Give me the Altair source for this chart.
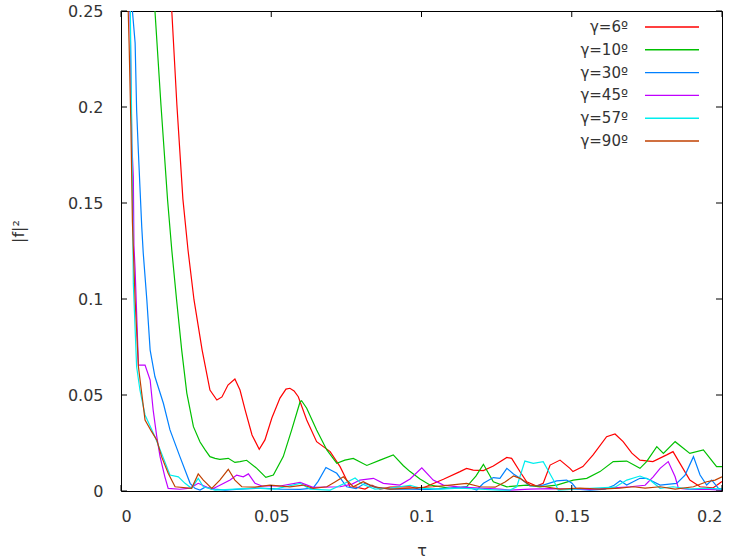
import altair as alt
import pandas as pd

FONT = "DejaVu Sans"
TXT = "#333333"

labels = ["γ=6º", "γ=10º", "γ=30º", "γ=45º", "γ=57º", "γ=90º"]
colors = ["#ff0000", "#00c000", "#0080ff", "#c000ff", "#00eeee", "#c04000"]
x_ticks = [0, 0.05, 0.1, 0.15, 0.2]
y_ticks = [0, 0.05, 0.1, 0.15, 0.2, 0.25]

# (tau, |f|^2) pairs
g6 = [(0.0150,0.300),(0.0169,0.250),(0.0186,0.201),(0.0206,0.152),(0.0223,0.1255),(0.0243,0.0995),
      (0.0270,0.0734),(0.0296,0.0526),(0.0319,0.0474),(0.0336,0.0490),(0.0356,0.0552),(0.0379,0.0583),
      (0.0396,0.0526),(0.0413,0.0422),(0.0436,0.0292),(0.0460,0.0217),(0.0479,0.0266),(0.0502,0.0380),
      (0.0529,0.0484),(0.0549,0.0531),(0.0562,0.0535),(0.0576,0.0521),(0.0590,0.0491),(0.0618,0.0370),
      (0.0651,0.0257),(0.0696,0.0205),(0.0729,0.0127),(0.0762,0.0022),(0.0782,0.0020),(0.0812,0.0010),
      (0.0835,0.0030),(0.0862,0.0010),(0.0895,0.0020),(0.0928,0.0022),(0.0962,0.0022),(0.0995,0.0009),
      (0.1028,0.0031),(0.1073,0.0061),(0.1128,0.0101),(0.1150,0.0118),(0.1172,0.0109),(0.1206,0.0106),
      (0.1239,0.0130),(0.1284,0.0175),(0.1300,0.0170),(0.1328,0.0100),(0.1350,0.0048),(0.1383,0.0026),
      (0.1405,0.0040),(0.1428,0.0135),(0.1461,0.0161),(0.1494,0.0118),(0.1504,0.0101),(0.1537,0.0127),
      (0.1571,0.0188),(0.1616,0.0283),(0.1644,0.0297),(0.1671,0.0257),(0.1700,0.0197),(0.1727,0.0161),
      (0.1770,0.0153),(0.1816,0.0188),(0.1837,0.0205),(0.1860,0.0144),(0.1893,0.0057),(0.1927,0.0022),
      (0.1970,0.0016),(0.1993,0.0042),(0.2000,0.0050)]
g10 = [(0.0090,0.300),(0.0113,0.250),(0.0133,0.201),(0.0155,0.1516),(0.0169,0.1255),(0.0185,0.0995),
       (0.0202,0.0734),(0.0219,0.0510),(0.0241,0.0335),(0.0263,0.0255),(0.0280,0.0214),(0.0296,0.0179),
       (0.0313,0.0170),(0.0329,0.0165),(0.0357,0.0170),(0.0379,0.0149),(0.0396,0.0153),(0.0418,0.0160),
       (0.0452,0.0118),(0.0482,0.0071),(0.0507,0.0083),(0.0540,0.0179),(0.0568,0.0318),(0.0596,0.0465),
       (0.0601,0.0470),(0.0618,0.0431),(0.0651,0.0318),(0.0685,0.0214),(0.0718,0.0144),(0.0745,0.0161),
       (0.0773,0.0170),(0.0818,0.0133),(0.0862,0.0161),(0.0906,0.0188),(0.0939,0.0133),(0.0962,0.0101),
       (0.0995,0.0063),(0.1028,0.0031),(0.1095,0.0014),(0.1150,0.0022),(0.1181,0.0078),(0.1206,0.0139),
       (0.1239,0.0048),(0.1284,0.0022),(0.1350,0.0031),(0.1394,0.0022),(0.1450,0.0031),(0.1505,0.0057),
       (0.1550,0.0066),(0.1594,0.0101),(0.1638,0.0153),(0.1683,0.0156),(0.1727,0.0118),(0.1749,0.0153),
       (0.1783,0.0231),(0.1805,0.0196),(0.1844,0.0257),(0.1893,0.0196),(0.1938,0.0214),(0.1982,0.0127),
       (0.2000,0.0127)]
g30 = [(0.0030,0.300),(0.0038,0.250),(0.0047,0.2333),(0.0052,0.1984),(0.0058,0.1760),(0.0063,0.1585),
       (0.0069,0.1377),(0.0074,0.1240),(0.0086,0.0995),(0.0097,0.0734),(0.0113,0.0595),(0.0141,0.0457),
       (0.0163,0.0318),(0.0196,0.0179),(0.0230,0.0040),(0.0246,0.0014),(0.0263,0.0005),(0.0280,0.0020),
       (0.0313,0.0010),(0.0346,0.0005),(0.0396,0.0010),(0.0463,0.0015),(0.0529,0.0010),(0.0596,0.0008),
       (0.0639,0.0015),(0.0656,0.0050),(0.0682,0.0122),(0.0718,0.0092),(0.0751,0.0022),(0.0782,0.0012),
       (0.0812,0.0040),(0.0845,0.0020),(0.0895,0.0010),(0.0962,0.0010),(0.1028,0.0008),(0.1095,0.0015),
       (0.1150,0.0022),(0.1184,0.0005),(0.1206,0.0040),(0.1239,0.0070),(0.1261,0.0066),(0.1284,0.0118),
       (0.1306,0.0089),(0.1328,0.0066),(0.1361,0.0026),(0.1405,0.0031),(0.1450,0.0053),(0.1483,0.0057),
       (0.1501,0.0040),(0.1517,0.0010),(0.1561,0.0005),(0.1611,0.0010),(0.1641,0.0030),(0.1661,0.0053),
       (0.1683,0.0031),(0.1727,0.0066),(0.1749,0.0066),(0.1794,0.0031),(0.1849,0.0040),(0.1877,0.0083),
       (0.1905,0.0179),(0.1927,0.0083),(0.1949,0.0031),(0.1966,0.0057),(0.1988,0.0014),(0.2000,0.0010)]
g45 = [(0.0025,0.300),(0.0030,0.250),(0.0036,0.181),(0.0041,0.1637),(0.0043,0.128),(0.0047,0.115),
       (0.0058,0.0656),(0.0080,0.0656),(0.0097,0.0578),(0.0107,0.0422),(0.0119,0.0283),(0.0130,0.0179),
       (0.0146,0.0074),(0.0157,0.0014),(0.0196,0.0009),(0.0230,0.0015),(0.0257,0.0040),(0.0302,0.0009),
       (0.0329,0.0030),(0.0363,0.0057),(0.0385,0.0083),(0.0407,0.0074),(0.0424,0.0089),(0.0446,0.0040),
       (0.0469,0.0026),(0.0529,0.0026),(0.0596,0.0045),(0.0639,0.0019),(0.0729,0.0022),(0.0769,0.0036),
       (0.0795,0.0057),(0.0840,0.0066),(0.0873,0.0040),(0.0928,0.0031),(0.0962,0.0063),(0.1001,0.0121),
       (0.1039,0.0057),(0.1073,0.0031),(0.1128,0.0020),(0.1195,0.0015),(0.1261,0.0010),(0.1294,0.0005),
       (0.1361,0.0010),(0.1428,0.0012),(0.1494,0.0010),(0.1561,0.0008),(0.1627,0.0015),(0.1694,0.0022),
       (0.1744,0.0030),(0.1771,0.0074),(0.1794,0.0118),(0.1821,0.0153),(0.1844,0.0074),(0.1855,0.0014),
       (0.1893,0.0008),(0.1943,0.0010),(0.2000,0.0005)]
g57 = [(0.0026,0.300),(0.0031,0.250),(0.0038,0.160),(0.0041,0.108),(0.0052,0.0647),(0.0063,0.0526),
       (0.0080,0.0396),(0.0113,0.0283),(0.0135,0.0196),(0.0163,0.0083),(0.0191,0.0074),(0.0213,0.0040),
       (0.0235,0.0014),(0.0257,0.0066),(0.0274,0.0022),(0.0313,0.0005),(0.0379,0.0010),(0.0446,0.0015),
       (0.0512,0.0010),(0.0596,0.0040),(0.0629,0.0010),(0.0696,0.0005),(0.0745,0.0040),(0.0779,0.0068),
       (0.0802,0.0036),(0.0845,0.0010),(0.0895,0.0015),(0.0962,0.0030),(0.0995,0.0015),(0.1062,0.0010),
       (0.1128,0.0015),(0.1195,0.0010),(0.1261,0.0005),(0.1294,0.0005),(0.1317,0.0022),(0.1344,0.0156),
       (0.1372,0.0144),(0.1405,0.0153),(0.1439,0.0057),(0.1455,0.0005),(0.1511,0.0010),(0.1577,0.0015),
       (0.1644,0.0020),(0.1683,0.0057),(0.1727,0.0078),(0.1760,0.0057),(0.1794,0.0014),(0.1837,0.0022),
       (0.1893,0.0010),(0.1943,0.0015),(0.2000,0.0010)]
g90 = [(0.0020,0.300),(0.0024,0.250),(0.0027,0.233),(0.0033,0.190),(0.0038,0.140),(0.0047,0.0995),
       (0.0058,0.0647),(0.0069,0.0509),(0.0080,0.0370),(0.0102,0.0309),(0.0119,0.0266),(0.0135,0.0179),
       (0.0157,0.0092),(0.0180,0.0022),(0.0235,0.0014),(0.0257,0.0089),(0.0274,0.0057),(0.0302,0.0014),
       (0.0329,0.0057),(0.0357,0.0113),(0.0379,0.0057),(0.0402,0.0022),(0.0446,0.0020),(0.0496,0.0031),
       (0.0562,0.0022),(0.0607,0.0031),(0.0640,0.0014),(0.0685,0.0022),(0.0712,0.0047),(0.0740,0.0074),
       (0.0773,0.0022),(0.0806,0.0048),(0.0840,0.0022),(0.0895,0.0010),(0.0962,0.0015),(0.1038,0.0022),
       (0.1095,0.0031),(0.1150,0.0040),(0.1195,0.0022),(0.1245,0.0020),(0.1278,0.0047),(0.1306,0.0078),
       (0.1328,0.0066),(0.1361,0.0031),(0.1411,0.0022),(0.1461,0.0010),(0.1527,0.0015),(0.1594,0.0010),
       (0.1660,0.0015),(0.1705,0.0022),(0.1744,0.0015),(0.1794,0.0022),(0.1844,0.0010),(0.1905,0.0022),
       (0.1949,0.0048),(0.1977,0.0057),(0.2000,0.0074)]

series = [g6, g10, g30, g45, g57, g90]
rows = []
for lab, pts in zip(labels, series):
    for i, (t, v) in enumerate(pts):
        rows.append({"series": lab, "tau": t, "f2": v, "i": i})
df = pd.DataFrame(rows)

W, H = 601, 480
xs = alt.Scale(domain=[0, 0.2], nice=False, zero=False)
ys = alt.Scale(domain=[0, 0.25], nice=False)
cs = alt.Scale(domain=labels, range=colors)

x_axis = alt.Axis(values=x_ticks, format="~g", title="τ", labelPadding=17,
                  titleX=W / 2, titleY=59, titleBaseline="middle", titleAlign="center")
y_axis = alt.Axis(values=y_ticks, format="~g", title="|f|²", labelPadding=18,
                  titleX=-103, titleY=220, titleAngle=270, titleAlign="center",
                  titleBaseline="middle")

lines = alt.Chart(df).mark_line(strokeWidth=1.2, clip=True).encode(
    x=alt.X("tau:Q", scale=xs, axis=x_axis),
    y=alt.Y("f2:Q", scale=ys, axis=y_axis),
    color=alt.Color("series:N", scale=cs, legend=None),
    order="i:Q",
)

ydf = pd.DataFrame({"f2": y_ticks})
xdf = pd.DataFrame({"tau": x_ticks})
TL = 6
left_t = alt.Chart(ydf).mark_rule(color="black", strokeWidth=1).encode(
    y=alt.Y("f2:Q", scale=ys, axis=y_axis), x=alt.value(0), x2=alt.value(TL))
right_t = alt.Chart(ydf).mark_rule(color="black", strokeWidth=1).encode(
    y=alt.Y("f2:Q", scale=ys, axis=y_axis), x=alt.value(W - TL), x2=alt.value(W))
bot_t = alt.Chart(xdf).mark_rule(color="black", strokeWidth=1).encode(
    x=alt.X("tau:Q", scale=xs, axis=x_axis), y=alt.value(H), y2=alt.value(H - TL))
top_t = alt.Chart(xdf).mark_rule(color="black", strokeWidth=1).encode(
    x=alt.X("tau:Q", scale=xs, axis=x_axis), y=alt.value(0), y2=alt.value(TL))

main = alt.layer(lines, left_t, right_t, bot_t, top_t)

leg_df = pd.DataFrame({"series": labels})
ly = alt.Y("series:N",
           scale=alt.Scale(type="point", domain=labels, range=[16, 130], padding=0),
           axis=None)
leg_text = alt.Chart(leg_df).mark_text(align="right", baseline="middle", font=FONT,
                                       fontSize=15, color=TXT).encode(
    y=ly, x=alt.value(507), text="series:N")
leg_line = alt.Chart(leg_df).mark_rule(strokeWidth=1.4).encode(
    y=ly, x=alt.value(524), x2=alt.value(578),
    color=alt.Color("series:N", scale=cs, legend=None))

chart = alt.layer(main, leg_text, leg_line).resolve_scale(y="independent").properties(
    width=W, height=H,
    autosize=alt.AutoSizeParams(type="none"),
    padding={"left": 121, "top": 11, "right": 13, "bottom": 67},
).configure_view(stroke="black", strokeWidth=1).configure_axis(
    labelFont=FONT, labelFontSize=16, labelColor=TXT,
    titleFont=FONT, titleFontSize=16, titleColor=TXT, titleFontWeight="normal",
    ticks=False, tickSize=0, domain=False, grid=False,
)

chart.save("out.html", embed_options={"renderer": "svg", "actions": False})
